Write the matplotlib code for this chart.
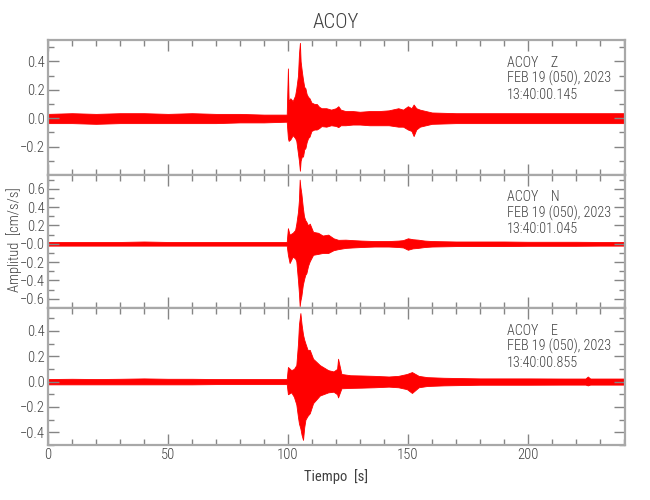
import numpy as np
import matplotlib
matplotlib.use("Agg")
import matplotlib.pyplot as plt
from matplotlib.ticker import MultipleLocator, FixedLocator

plt.rcParams['font.family'] = ['Roboto Condensed', 'DejaVu Sans']
plt.rcParams['font.weight'] = 'light'

# envelope of each trace (seconds, cm/s/s)
t_z = [0, 10, 20, 30, 40, 50, 60, 70, 80, 90, 99.5, 100, 100.3, 101, 102, 103, 103.5,
       104.2, 104.6, 105, 105.3, 105.8, 106.3, 106.8, 107.3, 107.8, 108.4, 109, 109.8,
       111, 112, 113, 114, 116, 118, 120, 121, 122, 124, 127, 130, 134, 138, 142, 146,
       148, 150, 151.5, 152.4, 153.5, 155, 157.5, 160, 170, 180, 190, 200, 210, 220, 230, 240]
up_z = [0.03, 0.035, 0.03, 0.035, 0.035, 0.03, 0.035, 0.03, 0.03, 0.025, 0.025, 0.35, 0.12,
        0.14, 0.12, 0.16, 0.21, 0.30, 0.45, 0.53, 0.40, 0.33, 0.27, 0.22, 0.21, 0.17, 0.15,
        0.14, 0.11, 0.10, 0.10, 0.08, 0.07, 0.07, 0.06, 0.07, 0.084, 0.06, 0.05, 0.05, 0.045,
        0.05, 0.05, 0.055, 0.07, 0.06, 0.084, 0.07, 0.096, 0.07, 0.06, 0.05, 0.04, 0.035,
        0.035, 0.035, 0.035, 0.035, 0.035, 0.035, 0.035]
lo_z = [-0.035, -0.035, -0.04, -0.035, -0.035, -0.035, -0.035, -0.035, -0.03, -0.03, -0.025,
        -0.14, -0.16, -0.15, -0.12, -0.14, -0.16, -0.25, -0.30, -0.37, -0.30, -0.27, -0.27,
        -0.22, -0.21, -0.17, -0.14, -0.13, -0.09, -0.08, -0.08, -0.07, -0.056, -0.06, -0.05,
        -0.055, -0.063, -0.05, -0.05, -0.045, -0.045, -0.05, -0.05, -0.05, -0.06, -0.06,
        -0.08, -0.09, -0.126, -0.08, -0.06, -0.05, -0.04, -0.035, -0.035, -0.035, -0.035,
        -0.035, -0.035, -0.035, -0.035]

t_n = [0, 10, 20, 30, 40, 50, 60, 70, 80, 90, 99.5, 100, 100.7, 102, 103, 103.5, 104.2,
       104.6, 104.9, 105.2, 105.6, 106.2, 106.7, 107.2, 107.7, 108.4, 109.1, 110.5, 112.6,
       114.5, 116.8, 119, 121, 124, 127, 130.7, 136, 142, 146, 148, 150, 152, 154.2, 157,
       160, 170, 180, 190, 200, 210, 220, 230, 240]
up_n = [0.02, 0.02, 0.02, 0.02, 0.025, 0.02, 0.02, 0.02, 0.02, 0.02, 0.02, 0.17, 0.10, 0.12,
        0.15, 0.22, 0.35, 0.48, 0.70, 0.62, 0.55, 0.40, 0.30, 0.26, 0.24, 0.20, 0.22, 0.13,
        0.12, 0.09, 0.10, 0.06, 0.043, 0.045, 0.04, 0.035, 0.03, 0.03, 0.035, 0.04, 0.06,
        0.05, 0.045, 0.035, 0.03, 0.025, 0.025, 0.025, 0.022, 0.022, 0.022, 0.02, 0.02]
lo_n = [-0.02, -0.02, -0.02, -0.02, -0.02, -0.02, -0.02, -0.02, -0.02, -0.02, -0.02, -0.12,
        -0.21, -0.14, -0.16, -0.19, -0.40, -0.54, -0.68, -0.62, -0.57, -0.45, -0.39, -0.34,
        -0.32, -0.24, -0.19, -0.12, -0.11, -0.10, -0.10, -0.07, -0.058, -0.045, -0.04,
        -0.035, -0.03, -0.03, -0.035, -0.04, -0.065, -0.05, -0.045, -0.035, -0.03, -0.025,
        -0.025, -0.025, -0.022, -0.022, -0.022, -0.02, -0.02]

t_e = [0, 10, 20, 30, 40, 50, 60, 70, 80, 90, 99.5, 100, 101.4, 102.5, 103.5, 104.2, 104.6,
       105.2, 105.7, 106.3, 106.8, 107.3, 108.2, 109.1, 110.5, 113.3, 116.8, 119, 120.5,
       120.9, 122.3, 126, 130.7, 136, 142, 146, 149.6, 151.7, 154.5, 158, 165, 180, 200,
       215, 224, 225, 226, 230, 240]
up_e = [0.02, 0.022, 0.02, 0.022, 0.025, 0.022, 0.022, 0.02, 0.02, 0.02, 0.02, 0.115, 0.09,
        0.10, 0.13, 0.30, 0.45, 0.54, 0.45, 0.37, 0.33, 0.30, 0.25, 0.25, 0.18, 0.13, 0.09,
        0.08, 0.10, 0.18, 0.06, 0.05, 0.048, 0.045, 0.04, 0.045, 0.06, 0.075, 0.045, 0.035,
        0.03, 0.025, 0.025, 0.024, 0.024, 0.04, 0.024, 0.024, 0.024]
lo_e = [-0.022, -0.022, -0.022, -0.022, -0.022, -0.022, -0.022, -0.02, -0.02, -0.02, -0.02,
        -0.10, -0.085, -0.12, -0.18, -0.28, -0.33, -0.37, -0.42, -0.46, -0.36, -0.30, -0.27,
        -0.25, -0.17, -0.11, -0.085, -0.08, -0.10, -0.125, -0.053, -0.05, -0.048, -0.045,
        -0.04, -0.045, -0.06, -0.09, -0.045, -0.035, -0.03, -0.025, -0.025, -0.024, -0.024,
        -0.03, -0.024, -0.024, -0.024]

stations = ["ACOY    Z", "ACOY    N", "ACOY    E"]
dates = ["FEB 19 (050), 2023"] * 3
hours = ["13:40:00.145", "13:40:01.045", "13:40:00.855"]

ylims = [(-0.4, 0.55), (-0.7, 0.75), (-0.5, 0.58)]
yticks = [[-0.2, 0.0, 0.2, 0.4],
          [-0.6, -0.4, -0.2, 0.0, 0.2, 0.4, 0.6],
          [-0.4, -0.2, 0.0, 0.2, 0.4]]
ytlabels = [["\u22120.2", "0.0", "0.2", "0.4"],
            ["\u22120.6", "\u22120.4", "\u22120.2", "\u22120.0", "0.2", "0.4", "0.6"],
            ["\u22120.4", "\u22120.2", "0.0", "0.2", "0.4"]]

traces = [(t_z, up_z, lo_z), (t_n, up_n, lo_n), (t_e, up_e, lo_e)]

gray = '#a8a8a8'
txt = '#404040'

fig = plt.figure(figsize=(6.5, 5), dpi=100)
boxes = [(40, 175), (175, 308), (308, 445)]
axes = []
for i, (top, bot) in enumerate(boxes):
    ax = fig.add_axes([48 / 650, 1 - bot / 500, 577 / 650, (bot - top) / 500])
    t, up, lo = traces[i]
    ax.fill_between(t, lo, up, color='red', lw=0.6, edgecolor='red')
    ax.set_xlim(0, 240.5)
    ax.set_ylim(*ylims[i])
    ax.xaxis.set_major_locator(MultipleLocator(50))
    ax.xaxis.set_minor_locator(MultipleLocator(10))
    ax.yaxis.set_major_locator(FixedLocator(yticks[i]))
    ax.set_yticklabels(ytlabels[i])
    ax.yaxis.set_minor_locator(MultipleLocator(0.1))
    ax.tick_params(which='both', direction='in', top=True, right=True,
                   color='#858585', labelcolor=txt, labelsize=10.5, pad=2)
    ax.tick_params(which='major', length=8, width=1)
    ax.tick_params(which='minor', length=4, width=1)
    for s in ax.spines.values():
        s.set_color(gray)
        s.set_linewidth(1.6)
    if i < 2:
        ax.tick_params(labelbottom=False)
    ax.text(0.795, 0.885, stations[i] + "\n" + dates[i] + "\n" + hours[i],
            transform=ax.transAxes, ha='left', va='top', fontsize=10.2,
            color=txt, linespacing=1.12)
    axes.append(ax)

axes[2].set_xlabel("Tiempo  [s]", color=txt, fontsize=10.5, labelpad=5)
fig.text(0.022, 0.52, "Amplitud  [cm/s/s]", rotation=90, ha='center', va='center',
         color=txt, fontsize=10.5)
fig.text(336 / 650, 1 - 22 / 500, "ACOY", ha='center', va='center', color=txt, fontsize=15)

fig.savefig("out.png", dpi=100)
